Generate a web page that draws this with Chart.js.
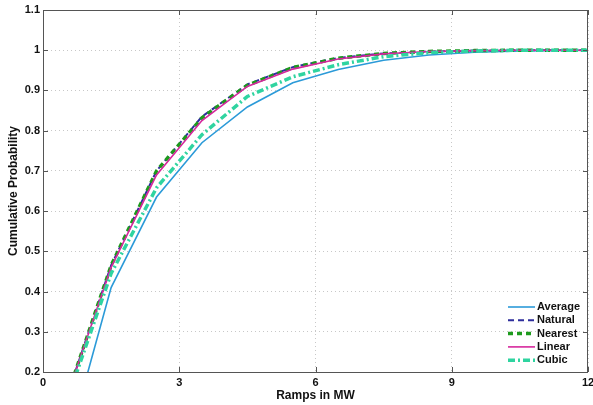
<!DOCTYPE html>
<html>
<head>
<meta charset="utf-8">
<script src="https://cdn.jsdelivr.net/npm/chart.js@4/dist/chart.umd.min.js"></script>
<style>
  html, body { margin: 0; padding: 0; background: #fff; }
  #wrap { width: 593px; height: 405px; }
</style>
</head>
<body>
<div id="wrap"><canvas id="cdf"></canvas></div>
<script>
// ramp sizes (MW) where each curve is sampled
const ramps = [0.5, 1.5, 2.5, 3.5, 4.5, 5.5, 6.5, 7.5, 8.5, 9.5, 10.5, 11.5, 12];

const average = [0.0, 0.41, 0.635, 0.77, 0.859, 0.919, 0.952, 0.975, 0.988, 0.995, 0.998, 1.0, 1.0];
const natural = [0.13, 0.465, 0.70, 0.835, 0.915, 0.958, 0.981, 0.992, 0.997, 0.999, 1.0, 1.0, 1.0];
const nearest = [0.13, 0.465, 0.70, 0.832, 0.913, 0.957, 0.980, 0.992, 0.997, 0.999, 1.0, 1.0, 1.0];
const linear  = [0.13, 0.46, 0.69, 0.825, 0.91, 0.953, 0.978, 0.991, 0.997, 0.999, 1.0, 1.0, 1.0];
const cubic   = [0.12, 0.445, 0.658, 0.79, 0.885, 0.934, 0.964, 0.984, 0.994, 0.998, 1.0, 1.0, 1.0];

const xTicks = [0, 3, 6, 9, 12];
const yTicks = [0.2, 0.3, 0.4, 0.5, 0.6, 0.7, 0.8, 0.9, 1, 1.1];

const FONT = "'Liberation Sans', Arial, sans-serif";

function pts(vals) {
  return ramps.map((x, i) => ({ x: x, y: vals[i] }));
}

const series = [
  { label: "Average", data: average, color: "#2b9ad8", width: 1.6, dash: [], order: 5 },
  { label: "Natural", data: natural, color: "#2e2e9c", width: 2, dash: [6, 4], order: 4 },
  { label: "Nearest", data: nearest, color: "#1d9a1d", width: 3.5, dash: [5, 4], order: 3 },
  { label: "Linear",  data: linear,  color: "#d6279c", width: 1.6, dash: [], order: 2 },
  { label: "Cubic",   data: cubic,   color: "#2fd4a0", width: 3.5, dash: [7, 3, 2, 3], order: 1 }
];

// inward tick marks + plot box, like the matlab axes
const boxPlugin = {
  id: "box",
  afterDatasetsDraw(chart) {
    const { ctx, chartArea: a, scales } = chart;
    ctx.save();
    ctx.strokeStyle = "#555";
    ctx.lineWidth = 1;
    ctx.setLineDash([]);
    ctx.strokeRect(a.left + 0.5, a.top + 0.5, a.right - a.left - 1, a.bottom - a.top);
    ctx.beginPath();
    xTicks.forEach(v => {
      const px = Math.round(scales.x.getPixelForValue(v)) + 0.5;
      ctx.moveTo(px, a.bottom); ctx.lineTo(px, a.bottom - 5);
      ctx.moveTo(px, a.top); ctx.lineTo(px, a.top + 5);
    });
    yTicks.forEach(v => {
      const py = Math.round(scales.y.getPixelForValue(v)) + 0.5;
      ctx.moveTo(a.left, py); ctx.lineTo(a.left + 5, py);
      ctx.moveTo(a.right, py); ctx.lineTo(a.right - 5, py);
    });
    ctx.stroke();
    ctx.restore();
  },
  afterDraw(chart) {
    // legend inside lower right corner
    const { ctx, chartArea: a } = chart;
    const x0 = a.right - 80;
    let y = a.bottom - 65;
    ctx.save();
    ctx.font = "bold 11px " + FONT;
    ctx.textBaseline = "middle";
    series.forEach(s => {
      ctx.strokeStyle = s.color;
      ctx.lineWidth = s.width;
      ctx.setLineDash(s.dash);
      ctx.beginPath();
      ctx.moveTo(x0, y);
      ctx.lineTo(x0 + 27, y);
      ctx.stroke();
      ctx.setLineDash([]);
      ctx.fillStyle = "#111";
      ctx.fillText(s.label, x0 + 29, y);
      y += 13.3;
    });
    ctx.restore();
  }
};

new Chart(document.getElementById("cdf"), {
  type: "line",
  data: {
    datasets: series.map(s => ({
      label: s.label,
      data: pts(s.data),
      borderColor: s.color,
      backgroundColor: s.color,
      borderWidth: s.width,
      borderDash: s.dash,
      pointRadius: 0,
      tension: 0,
      fill: false,
      order: s.order
    }))
  },
  options: {
    responsive: true,
    maintainAspectRatio: false,
    animation: false,
    layout: { padding: { top: 10, right: 5, left: 1, bottom: 2 } },
    plugins: {
      legend: { display: false },
      tooltip: { enabled: false }
    },
    scales: {
      x: {
        type: "linear",
        min: 0,
        max: 12,
        afterBuildTicks: s => { s.ticks = xTicks.map(v => ({ value: v })); },
        afterFit: s => { s.height = 31; s.paddingLeft = 0; s.paddingRight = 0; },
        grid: { color: "#c8c8c8", drawTicks: false },
        border: { display: false, dash: [1, 3] },
        ticks: { color: "#111", padding: 4, font: { family: FONT, size: 11, weight: "bold" } },
        title: { display: true, text: "Ramps in MW", color: "#111", padding: { top: 3, bottom: 0 },
                 font: { family: FONT, size: 12, weight: "bold" } }
      },
      y: {
        type: "linear",
        min: 0.2,
        max: 1.1,
        afterBuildTicks: s => { s.ticks = yTicks.map(v => ({ value: v })); },
        afterFit: s => { s.width = 42; s.paddingTop = 0; s.paddingBottom = 0; },
        grid: { color: "#c8c8c8", drawTicks: false },
        border: { display: false, dash: [1, 3] },
        ticks: { color: "#111", padding: 3, font: { family: FONT, size: 11, weight: "bold" },
                 callback: v => String(Math.round(v * 10) / 10) },
        title: { display: true, text: "Cumulative Probability", color: "#111", padding: { top: 5, bottom: 0 },
                 font: { family: FONT, size: 12, weight: "bold" } }
      }
    }
  },
  plugins: [boxPlugin]
});
</script>
</body>
</html>
